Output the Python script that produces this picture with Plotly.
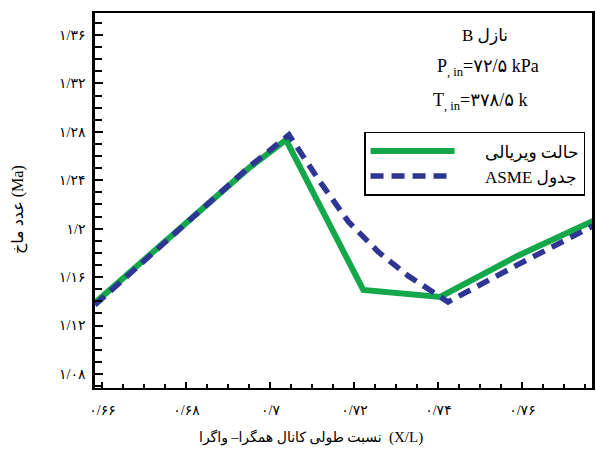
import plotly.graph_objects as go

# ---- data ----
virial_x = [0.6582, 0.6949, 0.7037, 0.7221, 0.7404, 0.7588, 0.7768]
virial_y = [1.1387, 1.2502, 1.2734, 1.1494, 1.1436, 1.1775, 1.2064]

asme_x = [0.6582, 0.6949, 0.7044, 0.7115, 0.7186, 0.7257, 0.7328, 0.7423, 0.7588, 0.7768]
asme_y = [1.1370, 1.2510, 1.2775, 1.2403, 1.2056, 1.1808, 1.1610, 1.1395, 1.1701, 1.2023]

x_tickvals = [0.66, 0.68, 0.70, 0.72, 0.74, 0.76]
x_ticktext = ["۰/۶۶", "۰/۶۸", "۰/۷", "۰/۷۲", "۰/۷۴", "۰/۷۶"]
y_tickvals = [1.08, 1.12, 1.16, 1.20, 1.24, 1.28, 1.32, 1.36]
y_ticktext = ["۱/۰۸", "۱/۱۲", "۱/۱۶", "۱/۲", "۱/۲۴", "۱/۲۸", "۱/۳۲", "۱/۳۶"]

series_names = ["حالت ویریالی", "ASME جدول"]

FONT = "Liberation Serif, Times New Roman, DejaVu Sans, serif"
GREEN = "#14a84b"
BLUE = "#2e3592"
PAD = "\u00a0" * 6

fig = go.Figure()
fig.add_trace(go.Scatter(x=virial_x, y=virial_y, mode="lines", name=PAD + series_names[0],
                         line=dict(color=GREEN, width=6)))
fig.add_trace(go.Scatter(x=asme_x, y=asme_y, mode="lines", name=PAD + series_names[1],
                         line=dict(color=BLUE, width=5.5, dash="13px,8px")))

fig.update_layout(
    width=596, height=452,
    margin=dict(l=95, r=1, t=13, b=64),
    paper_bgcolor="white", plot_bgcolor="white",
    font=dict(family=FONT, size=14, color="black"),
    showlegend=True,
    legend=dict(x=0.986, y=0.683, xanchor="right", yanchor="top",
                bordercolor="black", borderwidth=1.5, bgcolor="white",
                font=dict(size=17, family=FONT), itemwidth=84,
                tracegroupgap=0),
)

fig.update_xaxes(
    range=[0.65822, 0.77657], showgrid=False, zeroline=False,
    showline=True, linecolor="black", linewidth=2, mirror=True,
    ticks="inside", ticklen=6, tickwidth=1.5, tickcolor="black",
    tickvals=x_tickvals, ticktext=x_ticktext, ticklabelstandoff=8,
    minor=dict(ticks="inside", ticklen=4, tickwidth=1.5, tickcolor="black", dtick=0.005, showgrid=False),
    tickfont=dict(size=14),
)
fig.update_yaxes(
    range=[1.0684, 1.3782], showgrid=False, zeroline=False,
    showline=True, linecolor="black", linewidth=2.5, mirror=True,
    ticks="inside", ticklen=8, tickwidth=1.5, tickcolor="black",
    tickvals=y_tickvals, ticktext=y_ticktext, ticklabelstandoff=4,
    minor=dict(ticks="inside", ticklen=7, tickwidth=1.5, tickcolor="black", dtick=0.01, showgrid=False),
    tickfont=dict(size=14),
)

# x-axis title: Persian phrase (right-to-left) followed by "(X/L)" at its right end
fig.add_annotation(text="نسبت طولی کانال همگرا– واگرا", xref="paper", yref="paper", x=0.582, y=-0.133,
                   xanchor="right", yanchor="middle", showarrow=False, font=dict(size=14))
fig.add_annotation(text="(X/L)", xref="paper", yref="paper", x=0.588, y=-0.133,
                   xanchor="left", yanchor="middle", showarrow=False, font=dict(size=15))
fig.add_annotation(text="عدد ماخ (Ma)", xref="paper", yref="paper", x=-0.155, y=0.477,
                   xanchor="center", yanchor="middle", textangle=-90, showarrow=False,
                   font=dict(size=16))

fig.add_annotation(text="B نازل", xref="paper", yref="paper", x=0.784, y=0.939,
                   xanchor="center", yanchor="middle", showarrow=False, font=dict(size=17))
fig.add_annotation(text="P<sub>, in</sub>=۷۲/۵ kPa", xref="paper", yref="paper", x=0.79, y=0.855,
                   xanchor="center", yanchor="middle", showarrow=False, font=dict(size=18))
fig.add_annotation(text="T<sub>, in</sub>=۳۷۸/۵ k", xref="paper", yref="paper", x=0.775, y=0.763,
                   xanchor="center", yanchor="middle", showarrow=False, font=dict(size=18))

fig.write_html("out.html")
